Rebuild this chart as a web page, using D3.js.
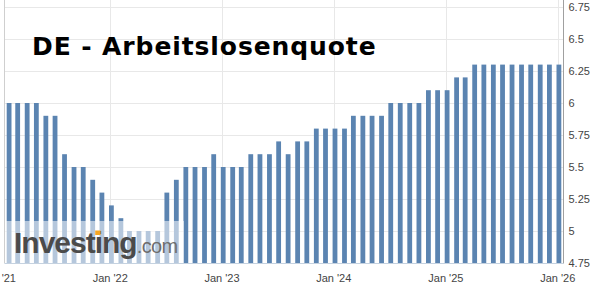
<!DOCTYPE html>
<html>
<head>
<meta charset="utf-8">
<script src="https://cdn.jsdelivr.net/npm/d3@7"></script>
<style>
  body { margin: 0; background: #fff; }
  svg { display: block; }
</style>
</head>
<body>
<svg id="chart" width="595" height="295"></svg>
<script>
// monthly releases, Feb 2021 .. Jan 2026
const months = [
  "2021-02","2021-03","2021-04","2021-05","2021-06","2021-07","2021-08","2021-09","2021-10","2021-11","2021-12",
  "2022-01","2022-02","2022-03","2022-04","2022-05","2022-06","2022-07","2022-08","2022-09","2022-10","2022-11","2022-12",
  "2023-01","2023-02","2023-03","2023-04","2023-05","2023-06","2023-07","2023-08","2023-09","2023-10","2023-11","2023-12",
  "2024-01","2024-02","2024-03","2024-04","2024-05","2024-06","2024-07","2024-08","2024-09","2024-10","2024-11","2024-12",
  "2025-01","2025-02","2025-03","2025-04","2025-05","2025-06","2025-07","2025-08","2025-09","2025-10","2025-11","2025-12",
  "2026-01"
];
const rates = [
  6.0, 6.0, 6.0, 6.0, 5.9, 5.9, 5.6, 5.5, 5.5, 5.4, 5.3,
  5.2, 5.1, 5.0, 5.0, 5.0, 5.0, 5.3, 5.4, 5.5, 5.5, 5.5, 5.6,
  5.5, 5.5, 5.5, 5.6, 5.6, 5.6, 5.7, 5.6, 5.7, 5.7, 5.8, 5.8,
  5.8, 5.8, 5.9, 5.9, 5.9, 5.9, 6.0, 6.0, 6.0, 6.0, 6.1, 6.1,
  6.1, 6.2, 6.2, 6.3, 6.3, 6.3, 6.3, 6.3, 6.3, 6.3, 6.3, 6.3,
  6.3
];
const yTicks = [4.75, 5, 5.25, 5.5, 5.75, 6, 6.25, 6.5, 6.75];
const xTicks = ["2021-01","2022-01","2023-01","2024-01","2025-01","2026-01"];
const title = "DE - Arbeitslosenquote";

const parseMonth = d3.timeParse("%Y-%m");
const data = months.map((m, i) => ({ date: parseMonth(m), value: rates[i] }));

const svg = d3.select("#chart");
const plotLeft = 4.5, plotRight = 563.5, plotTop = 0, plotBottom = 263;

const x = d3.scaleTime()
  .domain([parseMonth("2021-01"), parseMonth("2026-01")])
  .range([-1.6, 557.7]);
const y = d3.scaleLinear()
  .domain([4.75, 6.75])
  .range([plotBottom, 7]);

const barW = 4.8, barShift = 1.2;

// grid
svg.append("g")
  .selectAll("line")
  .data(yTicks)
  .join("line")
    .attr("x1", plotLeft).attr("x2", plotRight)
    .attr("y1", d => Math.round(y(d)) + 0.5).attr("y2", d => Math.round(y(d)) + 0.5)
    .style("stroke", "#e8e8e8");

svg.append("g")
  .selectAll("line")
  .data(xTicks.map(parseMonth).filter(d => x(d) > plotLeft))
  .join("line")
    .attr("x1", d => Math.round(x(d)) + 0.5).attr("x2", d => Math.round(x(d)) + 0.5)
    .attr("y1", plotTop).attr("y2", plotBottom)
    .style("stroke", "#e8e8e8");

// bars
svg.append("g")
  .selectAll("rect")
  .data(data)
  .join("rect")
    .attr("x", d => x(d.date) + barShift - barW / 2)
    .attr("width", barW)
    .attr("y", d => y(d.value))
    .attr("height", d => plotBottom - y(d.value))
    .style("fill", "#5b84b1");

// axis lines
svg.append("line")
  .attr("x1", plotLeft).attr("x2", plotLeft).attr("y1", plotTop).attr("y2", plotBottom)
  .style("stroke", "#cfcfcf");
svg.append("line")
  .attr("x1", plotRight).attr("x2", plotRight).attr("y1", plotTop).attr("y2", plotBottom + 0.5)
  .style("stroke", "#a0a0a0");
svg.append("line")
  .attr("x1", plotLeft).attr("x2", plotRight).attr("y1", plotBottom + 0.5).attr("y2", plotBottom + 0.5)
  .style("stroke", "#c5d2e0");

// y labels
svg.append("g")
  .selectAll("text")
  .data(yTicks)
  .join("text")
    .attr("x", plotRight + 5)
    .attr("y", d => y(d))
    .attr("dy", "0.36em")
    .text(d => String(d))
    .style("font-family", "Liberation Sans, Arial, sans-serif")
    .style("font-size", "11px")
    .style("fill", "#444");

// x labels
const fmt = d3.timeFormat("%b '%y");
svg.append("g")
  .selectAll("text")
  .data(xTicks.map(parseMonth))
  .join("text")
    .attr("x", d => x(d))
    .attr("y", 282)
    .attr("text-anchor", "middle")
    .text(d => fmt(d))
    .style("font-family", "Liberation Sans, Arial, sans-serif")
    .style("font-size", "11px")
    .style("fill", "#444");

// watermark
svg.append("rect")
  .attr("x", plotLeft + 0.5).attr("y", 221)
  .attr("width", 179).attr("height", plotBottom - 221)
  .style("fill", "#fff").style("opacity", 0.55);

const logo = svg.append("text")
  .attr("x", 14).attr("y", 252.5)
  .style("font-family", "Liberation Sans, Arial, sans-serif");
logo.append("tspan")
  .text("Investing")
  .style("font-weight", "bold")
  .style("font-size", "30px")
  .style("letter-spacing", "-1px")
  .style("fill", "#4b4b4b");
logo.append("tspan")
  .text(".com")
  .style("font-size", "20px")
  .style("letter-spacing", "-0.6px")
  .style("fill", "#6e6e6e");

// orange dot on the small i
const iPos = logo.node().getExtentOfChar(6);
svg.append("rect")
  .attr("x", iPos.x + 0.5).attr("y", 230.5)
  .attr("width", iPos.width - 2).attr("height", 4.5)
  .style("fill", "#f5a623");

// title
svg.append("text")
  .attr("x", 32).attr("y", 55)
  .text(title)
  .style("font-family", "DejaVu Sans, Verdana, sans-serif")
  .style("font-weight", "bold")
  .style("font-size", "25px")
  .style("letter-spacing", "0.9px")
  .style("fill", "#000");
</script>
</body>
</html>
